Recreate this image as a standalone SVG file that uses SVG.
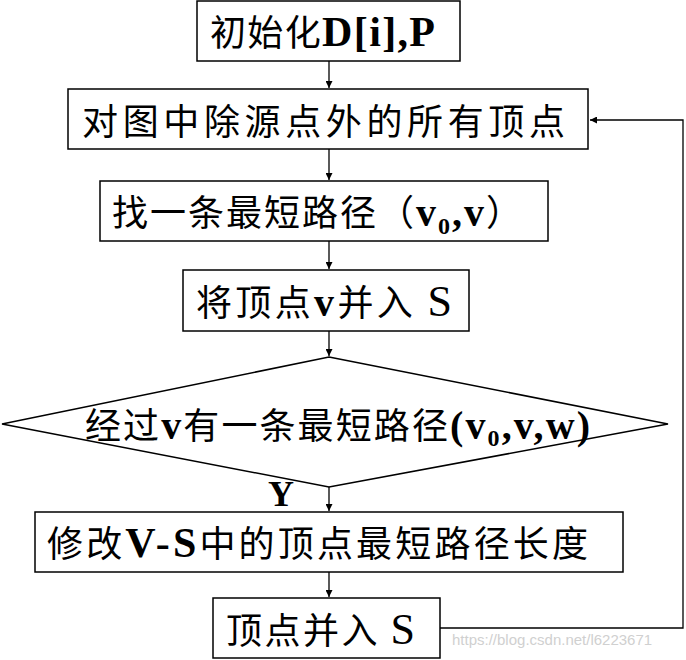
<svg xmlns="http://www.w3.org/2000/svg" width="686" height="660" viewBox="0 0 686 660">
<defs>
<style>
.box{fill:#fff;stroke:#000;stroke-width:1.5}
.ln{fill:none;stroke:#000;stroke-width:1.3}
.t{font-family:"Noto Sans CJK SC","Liberation Serif",serif;font-size:36px;fill:#000}
.b{font-family:"Liberation Serif",serif;font-weight:bold}
.r{font-family:"Liberation Serif",serif}
</style>
<marker id="ah" viewBox="0 0 10 10" refX="10" refY="5" markerWidth="7" markerHeight="7" markerUnits="userSpaceOnUse" orient="auto">
<path d="M0,0 L10,5 L0,10 z" fill="#000"/>
</marker>
</defs>
<rect width="686" height="660" fill="#fff"/>
<g id="connectors">
<line class="ln" x1="329" y1="61" x2="329" y2="88" marker-end="url(#ah)"/>
<line class="ln" x1="329" y1="149" x2="329" y2="180" marker-end="url(#ah)"/>
<line class="ln" x1="329" y1="241" x2="329" y2="269" marker-end="url(#ah)"/>
<line class="ln" x1="329" y1="331" x2="329" y2="356" marker-end="url(#ah)"/>
<line class="ln" x1="329" y1="487" x2="329" y2="511" marker-end="url(#ah)"/>
<line class="ln" x1="329" y1="572" x2="329" y2="597" marker-end="url(#ah)"/>
<polyline class="ln" points="440,628 683,628 683,120 590,120" marker-end="url(#ah)"/>
<text x="268" y="506" class="t b" font-size="26">Y</text>
</g>
<g id="n1">
<rect class="box" x="197" y="1" width="263" height="60"/>
<text class="t" x="210" y="46" font-size="38" textLength="225" lengthAdjust="spacing">初始化<tspan class="b" font-size="42">D[i],P</tspan></text>
</g>
<g id="n2">
<rect class="box" x="68" y="89" width="520" height="60"/>
<text class="t" x="82" y="135" font-size="40" textLength="483" lengthAdjust="spacing">对图中除源点外的所有顶点</text>
</g>
<g id="n3">
<rect class="box" x="100" y="181" width="448" height="60"/>
<text class="t" x="112" y="226" font-size="39" textLength="410" lengthAdjust="spacing">找一条最短路径（<tspan class="b" font-size="40">v<tspan font-size="24" dy="8">0</tspan><tspan dy="-8">,v</tspan></tspan>）</text>
</g>
<g id="n4">
<rect class="box" x="183" y="270" width="286" height="61"/>
<text class="t" x="196" y="316" font-size="39" textLength="256" lengthAdjust="spacing">将顶点<tspan class="b" font-size="40">v</tspan>并入 <tspan class="r" font-size="44">S</tspan></text>
</g>
<g id="n5">
<polygon class="box" points="329,357 668,424 329,487 2,424"/>
<text class="t" x="85" y="439" font-size="37" textLength="505" lengthAdjust="spacing">经过<tspan class="b" font-size="40">v</tspan>有一条最短路径<tspan class="b" font-size="40">(v<tspan font-size="24" dy="7">0</tspan><tspan dy="-7">,v,w)</tspan></tspan></text>
</g>
<g id="n6">
<rect class="box" x="35" y="512" width="588" height="60"/>
<text class="t" x="47" y="557" font-size="39" textLength="541" lengthAdjust="spacing">修改<tspan class="b" font-size="42">V-S</tspan>中的顶点最短路径长度</text>
</g>
<g id="n7">
<rect class="box" x="213" y="598" width="227" height="60"/>
<text class="t" x="226" y="644" font-size="39" textLength="189" lengthAdjust="spacing">顶点并入 <tspan class="r" font-size="44">S</tspan></text>
</g>
<text x="452" y="645" font-family="Liberation Sans,sans-serif" font-size="15" fill="#d0d0d0">https://blog.csdn.net/l6223671</text>
</svg>
